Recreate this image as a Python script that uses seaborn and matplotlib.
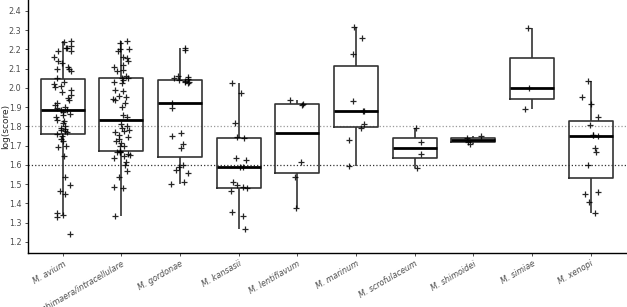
import numpy as np
import pandas as pd
import matplotlib
matplotlib.use('Agg')
import matplotlib.pyplot as plt
import seaborn as sns

species = ['M. avium', 'M. chimaera/intracellulare', 'M. gordonae', 'M. kansasii',
           'M. lentiflavum', 'M. marinum', 'M. scrofulaceum', 'M. shimoidei',
           'M. simiae', 'M. xenopi']

avium = [2.245, 2.24, 2.22, 2.21, 2.21, 2.19, 2.19, 2.16, 2.14, 2.13, 2.11, 2.10, 2.10, 2.09,
         2.05, 2.03, 2.02, 2.01, 2.005, 1.99, 1.98, 1.965, 1.95, 1.94, 1.92, 1.91, 1.90, 1.895,
         1.885, 1.885, 1.875, 1.865, 1.86, 1.85, 1.835, 1.83, 1.82, 1.80, 1.79, 1.785, 1.78,
         1.775, 1.77, 1.76, 1.735, 1.725, 1.70, 1.695, 1.645, 1.54, 1.495, 1.465, 1.45,
         1.35, 1.34, 1.33, 1.24, 1.75]
chimaera = [2.245, 2.235, 2.205, 2.20, 2.19, 2.16, 2.155, 2.14, 2.12, 2.11, 2.095, 2.09, 2.06,
            2.05, 2.05, 2.04, 2.03, 2.025, 1.99, 1.985, 1.96, 1.955, 1.945, 1.94, 1.92, 1.90,
            1.86, 1.85, 1.815, 1.80, 1.79, 1.78, 1.775, 1.77, 1.755, 1.745, 1.735, 1.725,
            1.715, 1.70, 1.70, 1.67, 1.665, 1.675, 1.665, 1.655, 1.65, 1.645, 1.635, 1.615,
            1.60, 1.57, 1.54, 1.485, 1.48, 1.335]
gordonae = [2.206, 2.197, 2.062, 2.055, 2.05, 2.045, 2.04, 2.035, 2.033, 2.03, 2.025, 1.924,
            1.898, 1.765, 1.752, 1.709, 1.687, 1.60, 1.591, 1.574, 1.557, 1.513, 1.501]
kansasii = [2.028, 1.972, 1.82, 1.747, 1.739, 1.635, 1.626, 1.59, 1.59, 1.513, 1.496, 1.484,
            1.479, 1.466, 1.357, 1.337, 1.268]
lentiflavum = [1.938, 1.917, 1.912, 1.617, 1.536, 1.375]
marinum = [2.315, 2.258, 2.177, 1.933, 1.882, 1.88, 1.811, 1.79, 1.73, 1.596]
scrofulaceum = [1.794, 1.721, 1.655, 1.586]
shimoidei = [1.75, 1.74, 1.72, 1.71]
simiae = [2.31, 2.0, 1.89]
xenopi = [2.038, 1.955, 1.915, 1.848, 1.808, 1.756, 1.754, 1.75, 1.687, 1.669, 1.60, 1.461,
          1.449, 1.409, 1.349]

groups = [avium, chimaera, gordonae, kansasii, lentiflavum, marinum, scrofulaceum,
          shimoidei, simiae, xenopi]
df = pd.DataFrame({
    'species': [s for s, g in zip(species, groups) for _ in g],
    'score': [v for g in groups for v in g],
})

sns.set_style('ticks')
plt.rcParams['font.family'] = ['DejaVu Sans']

fig = plt.figure(figsize=(6.27, 3.07), dpi=100)
ax = fig.add_axes([0.044, 0.176, 0.954, 0.824])

ax.axhline(1.8, color='#999999', linestyle=':', linewidth=0.9, zorder=0)
ax.axhline(1.6, color='#333333', linestyle=':', linewidth=0.9, zorder=0)

sns.boxplot(data=df, x='species', y='score', order=species, fill=False, color='#333333',
            width=0.75, showcaps=False, showfliers=False, linewidth=1.2,
            medianprops={'color': 'black', 'linewidth': 2}, ax=ax)
np.random.seed(4)
sns.stripplot(data=df, x='species', y='score', order=species, marker='+', color='black',
              size=4.5, linewidth=0.9, jitter=0.15, alpha=0.85, ax=ax)

ax.set_xlim(-0.6, 9.6)
ax.set_ylim(1.143, 2.457)
ax.set_yticks(np.arange(1.2, 2.41, 0.1))
ax.set_yticklabels([f'{v:.1f}' for v in np.arange(1.2, 2.41, 0.1)], fontsize=5.8, color='#4d4d4d')
ax.set_xticks(range(len(species)))
ax.set_xticklabels(species, rotation=30, ha='right', rotation_mode='anchor',
                   fontsize=5.8, style='italic', color='#4d4d4d')
ax.tick_params(length=2.5, width=0.6, color='#333333', pad=2)
ax.set_xlabel('')
ax.set_ylabel('log(score)', fontsize=6.5, va='center')
ax.yaxis.set_label_coords(-0.037, 0.5)
sns.despine(ax=ax)
for s in ['left', 'bottom']:
    ax.spines[s].set_linewidth(1.0)
    ax.spines[s].set_color('black')

fig.savefig('out.png', dpi=100)
